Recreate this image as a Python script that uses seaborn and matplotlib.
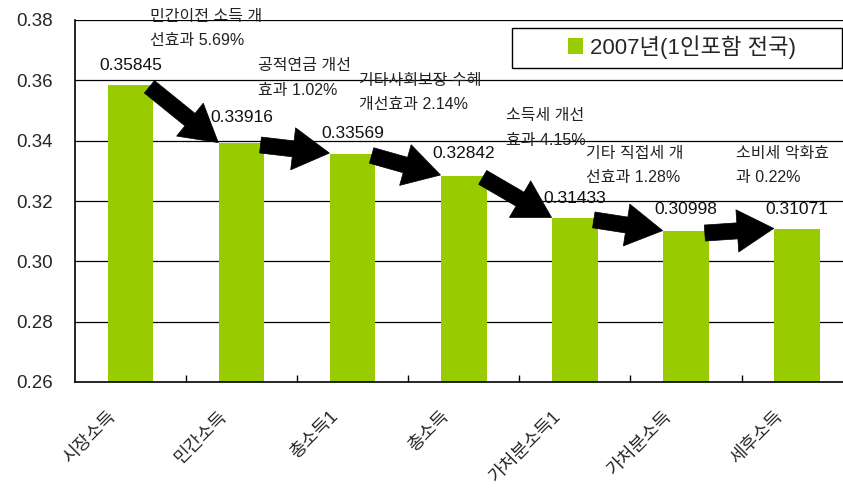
import matplotlib
matplotlib.use("Agg")
import matplotlib.pyplot as plt
import matplotlib.transforms as mtransforms
from matplotlib.patches import Rectangle
import seaborn as sns
import pandas as pd

# ---- data ----
categories = ["시장소득", "민간소득", "총소득1", "총소득", "가처분소득1", "가처분소득", "세후소득"]
values = [0.35845, 0.33916, 0.33569, 0.32842, 0.31433, 0.30998, 0.31071]
series_name = "2007년(1인포함 전국)"
effect_texts = [
    ("민간이전 소득 개", "선효과 5.69%"),
    ("공적연금 개선", "효과 1.02%"),
    ("기타사회보장 수혜", "개선효과 2.14%"),
    ("소득세 개선", "효과 4.15%"),
    ("기타 직접세 개", "선효과 1.28%"),
    ("소비세 악화효", "과 0.22%"),
]
y_ticks = [0.26, 0.28, 0.30, 0.32, 0.34, 0.36, 0.38]

# ---- layout (positions of the effect notes, value label offsets) ----
effect_pos = [(0.175, 0.3812), (1.148, 0.3648), (2.057, 0.3601),
              (3.381, 0.3482), (4.101, 0.3359), (5.451, 0.3359)]
label_offsets_pt = [13.7, 18.5, 14.2, 15.6, 14.4, 15.6, 14.0]

sns.set_style("white")
plt.rcParams['font.family'] = ['Liberation Sans', 'Noto Sans CJK KR']
plt.rcParams['axes.unicode_minus'] = False

BAR = "#99CC00"
df = pd.DataFrame({"cat": categories, "val": values})

fig = plt.figure(figsize=(8.43, 4.95), dpi=100)
ax = fig.add_axes([75 / 843, 1 - 382 / 495, 777.6 / 843, 362 / 495])

sns.barplot(data=df, x="cat", y="val", color=BAR, width=0.41, ax=ax,
            saturation=1, label=series_name, edgecolor="none")
handles, labels = ax.get_legend_handles_labels()
if ax.get_legend() is not None:
    ax.get_legend().remove()

ax.set_xlim(-0.5, len(categories) - 0.5)
ax.set_ylim(0.26, 0.38)
ax.set_yticks(y_ticks)
ax.set_yticklabels([f"{t:.2f}" for t in y_ticks], fontsize=13.5)
ax.set_xlabel("")
ax.set_ylabel("")

# gridlines
ax.grid(False)
for t in y_ticks[1:]:
    ax.axhline(t, color="black", lw=0.9, zorder=0.5)

for s in ["top", "right"]:
    ax.spines[s].set_visible(False)
for s in ["left", "bottom"]:
    ax.spines[s].set_color("black")
    ax.spines[s].set_linewidth(1.2)

ax.tick_params(axis="y", length=0, pad=16)
# category separators as minor ticks
ax.set_xticks([i + 0.5 for i in range(len(categories) - 1)], minor=True)
ax.tick_params(axis="x", which="minor", direction="in", length=5, width=1, color="black", bottom=True)
ax.tick_params(axis="x", which="major", length=0, pad=23)
offset = mtransforms.ScaledTranslation(-17 / 100, 0, fig.dpi_scale_trans)
for lbl in ax.get_xticklabels():
    lbl.set_rotation(45)
    lbl.set_ha("right")
    lbl.set_va("center")
    lbl.set_rotation_mode("anchor")
    lbl.set_fontsize(13)
    lbl.set_transform(lbl.get_transform() + offset)

# value labels
for i, v in enumerate(values):
    ax.annotate(f"{v:.5f}", xy=(i, v), xytext=(0, label_offsets_pt[i]),
                textcoords="offset points", ha="center", va="center",
                fontsize=12.5, color="#111111")

# arrows between bars
for i in range(len(values) - 1):
    ax.annotate("", xy=(i + 0.79, values[i + 1] + 0.0002),
                xytext=(i + 0.17, values[i] - 0.0006),
                arrowprops=dict(arrowstyle="simple,head_length=2.5,head_width=2.9,tail_width=1.1",
                                fc="black", ec="black", lw=0.5,
                                mutation_scale=10.5, shrinkA=0, shrinkB=0),
                zorder=5)

# effect notes
for (l1, l2), (x, y) in zip(effect_texts, effect_pos):
    ax.text(x, y, l1, ha="left", va="center", fontsize=11.5, color="#222222", clip_on=False)
    ax.annotate(l2, xy=(x, y), xytext=(0, -17.5), textcoords="offset points",
                ha="left", va="center", fontsize=11.5, color="#222222", annotation_clip=False)

# legend
leg = fig.legend(handles[:1], labels[:1], loc="center",
                 bbox_to_anchor=(682 / 843, 1 - 47 / 495), bbox_transform=fig.transFigure,
                 frameon=False, fontsize=16, handlelength=0.65, handleheight=0.7,
                 handletextpad=0.3, borderpad=0.2)
fig.patches.append(Rectangle((512 / 843, 1 - 68 / 495), 330 / 843, 40 / 495,
                             transform=fig.transFigure, fill=False,
                             edgecolor="black", lw=1.0))

fig.savefig("out.png", dpi=100)
